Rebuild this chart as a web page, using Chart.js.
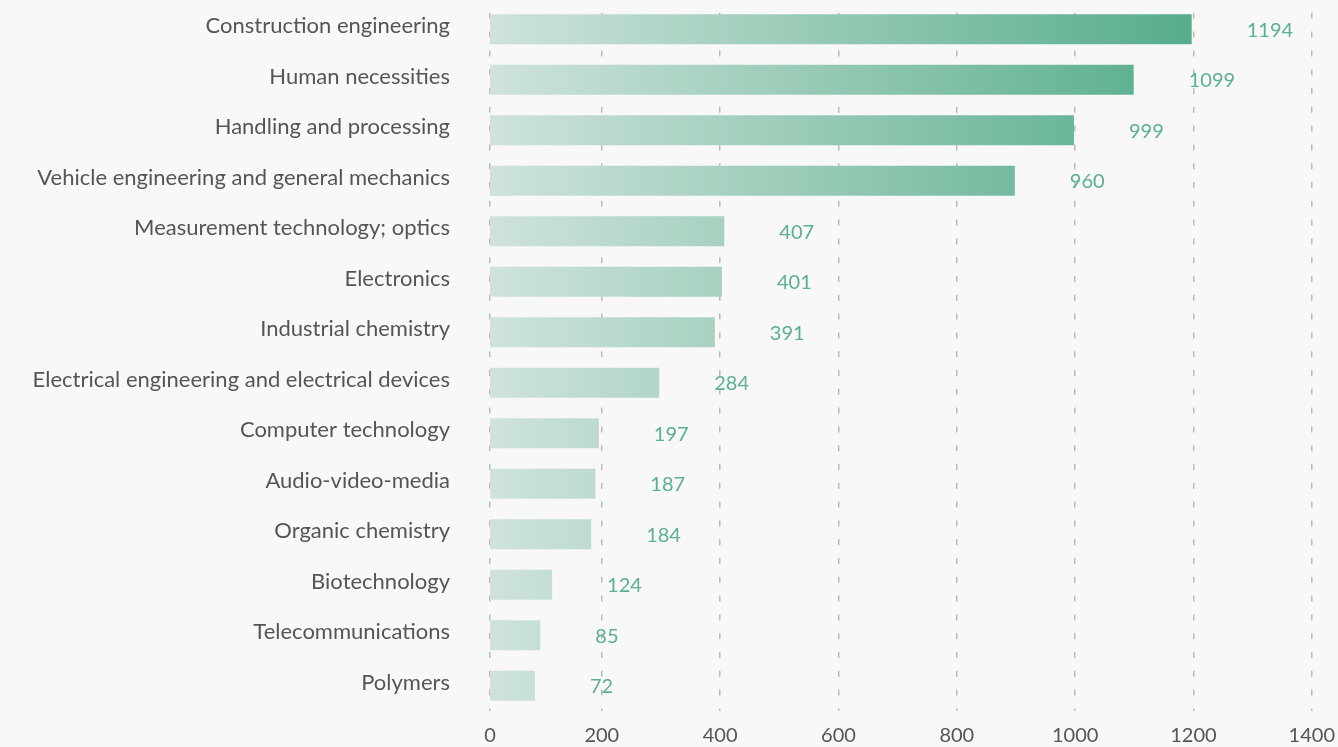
<!DOCTYPE html>
<html>
<head>
<meta charset="utf-8">
<script src="https://cdn.jsdelivr.net/npm/chart.js@4"></script>
<style>
  html, body { margin: 0; background: #f8f8f8; }
  canvas { display: block; }
</style>
</head>
<body>
<canvas id="patentChart" width="1338" height="747"></canvas>
<script>
const categories = [
    "Construction engineering",
    "Human necessities",
    "Handling and processing",
    "Vehicle engineering and general mechanics",
    "Measurement technology; optics",
    "Electronics",
    "Industrial chemistry",
    "Electrical engineering and electrical devices",
    "Computer technology",
    "Audio-video-media",
    "Organic chemistry",
    "Biotechnology",
    "Telecommunications",
    "Polymers"
];
// bar lengths as drawn in the source
const barValues = [1197, 1099, 998, 898, 407, 403, 391, 297, 195, 189, 182, 116, 96, 87];
// numbers printed next to the bars
const valueLabels = ["1194", "1099", "999", "960", "407", "401", "391", "284", "197", "187", "184", "124", "85", "72"];
// the source axis begins a little past zero but labels its first tick "0"
const axisStart = 11;
const tickValues = [200, 400, 600, 800, 1000, 1200, 1400];

(() => {
    const canvas = document.getElementById("patentChart");
    if (!canvas || typeof Chart === "undefined") {
        return;
    }

    const family = "Lato, 'Open Sans', sans-serif";
    const maxValue = Math.max(...barValues);

    const barGradient = (context) => {
        const { ctx, chartArea, scales } = context.chart;
        if (!chartArea) {
            return "#9ecbb8";
        }
        const end = scales.x.getPixelForValue(maxValue);
        const g = ctx.createLinearGradient(chartArea.left, 0, end, 0);
        g.addColorStop(0, "#cfe3da");
        g.addColorStop(1, "#56ad8b");
        return g;
    };

    const background = {
        id: "background",
        beforeDraw(chart) {
            const { ctx, width, height } = chart;
            ctx.save();
            ctx.fillStyle = "#f8f8f8";
            ctx.fillRect(0, 0, width, height);
            ctx.restore();
        }
    };

    const valueText = {
        id: "valueText",
        afterDatasetsDraw(chart) {
            const { ctx } = chart;
            const meta = chart.getDatasetMeta(0);
            ctx.save();
            ctx.fillStyle = "#5bb08e";
            ctx.font = `20px ${family}`;
            ctx.textAlign = "left";
            ctx.textBaseline = "middle";
            meta.data.forEach((bar, i) => {
                ctx.fillText(valueLabels[i], bar.x + 55, bar.y + 1);
            });
            ctx.restore();
        }
    };

    // eslint-disable-next-line no-new
    new Chart(canvas, {
        type: "bar",
        data: {
            labels: categories,
            datasets: [{
                data: barValues,
                backgroundColor: barGradient,
                borderWidth: 0,
                categoryPercentage: 1,
                barPercentage: 0.59
            }]
        },
        options: {
            responsive: false,
            animation: false,
            indexAxis: "y",
            layout: { padding: { top: 4, right: 0, bottom: 0, left: 0 } },
            plugins: {
                legend: { display: false },
                tooltip: { enabled: false }
            },
            scales: {
                x: {
                    min: axisStart,
                    max: 1400,
                    afterBuildTicks: (scale) => {
                        scale.ticks = [axisStart, ...tickValues].map((v) => ({ value: v }));
                    },
                    afterFit: (scale) => { scale.height = 36; },
                    grid: {
                        color: "#bababa",
                        lineWidth: 1.5,
                        drawTicks: true,
                        tickLength: 10,
                        tickColor: "rgba(0,0,0,0)"
                    },
                    border: { display: false, dash: [6, 12.8], dashOffset: 10 },
                    ticks: {
                        padding: 3,
                        color: "#555555",
                        font: { family, size: 20, lineHeight: 1.2 },
                        maxRotation: 0,
                        autoSkip: false,
                        callback: (value) => (value === axisStart ? "0" : String(value))
                    }
                },
                y: {
                    afterFit: (scale) => { scale.width = 490; },
                    grid: {
                        display: true,
                        drawOnChartArea: false,
                        drawTicks: true,
                        tickLength: 40,
                        tickColor: "rgba(0,0,0,0)"
                    },
                    border: { display: false },
                    ticks: {
                        padding: 0,
                        labelOffset: -3,
                        color: "#555555",
                        font: { family, size: 22, lineHeight: 0.3 },
                        autoSkip: false
                    }
                }
            }
        },
        plugins: [background, valueText]
    });
})();
</script>
</body>
</html>
